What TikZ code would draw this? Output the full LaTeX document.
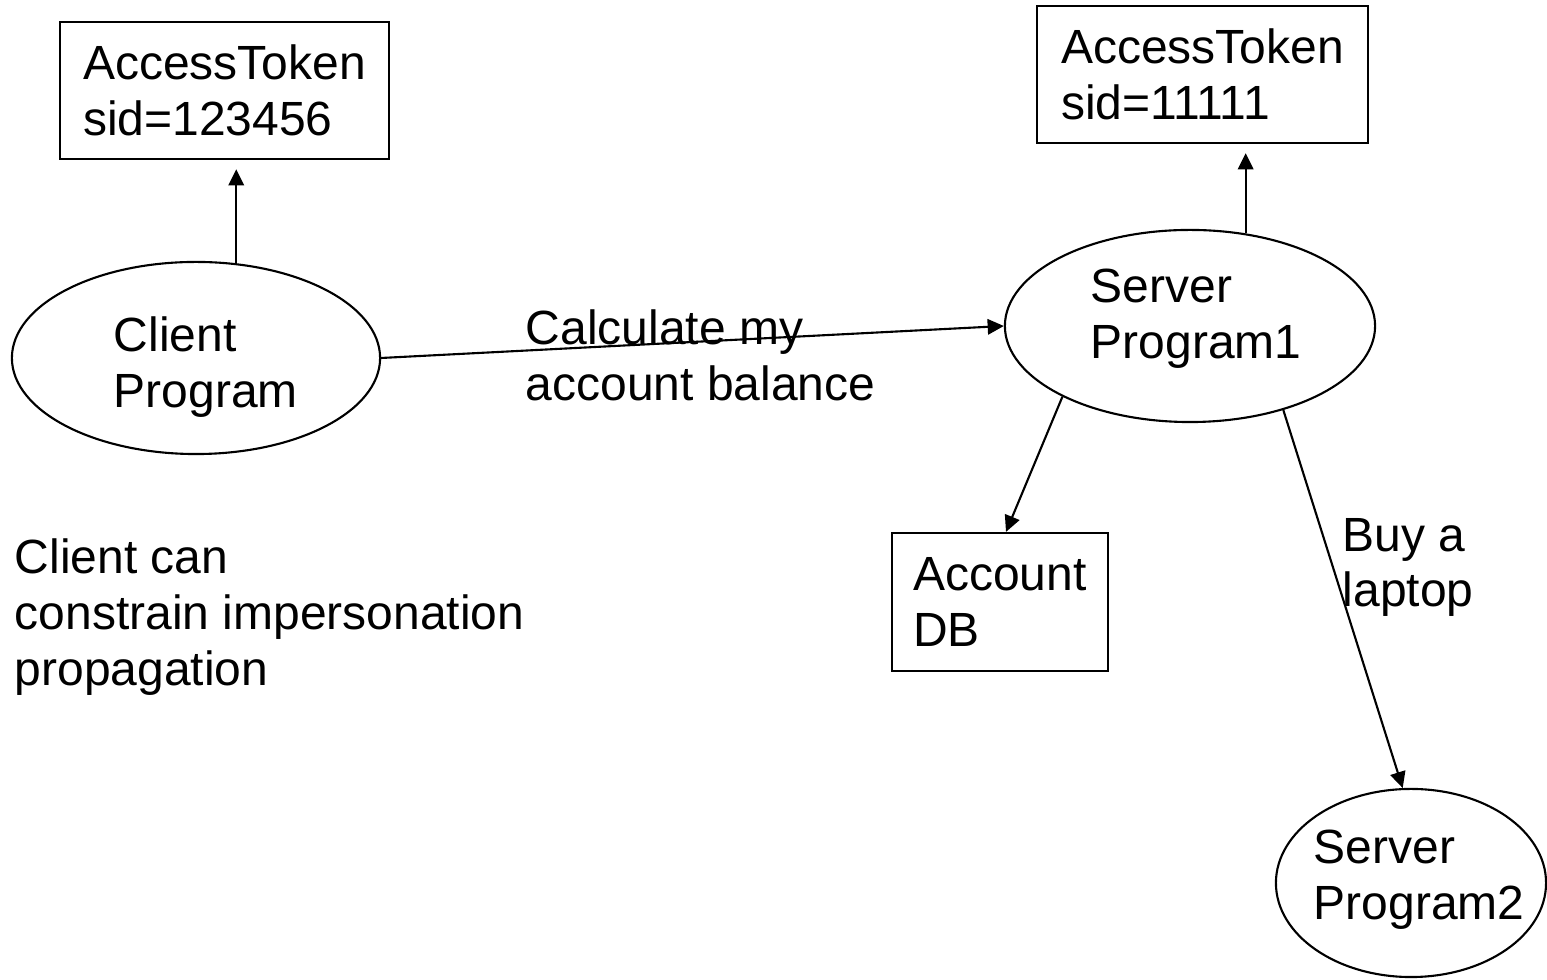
\documentclass[tikz,border=0pt]{standalone}
\usepackage{fontspec}
\setmainfont{Liberation Sans}
\usetikzlibrary{arrows.meta,shapes.geometric,calc}
\begin{document}
\begin{tikzpicture}[x=0.01cm,y=-0.01cm,
  every node/.style={font=\fontsize{13.65pt}{15.9pt}\selectfont, inner sep=0pt},
  tokbox/.style={draw, rectangle, line width=0.6pt, align=left},
  proc/.style={draw, ellipse, line width=0.6pt},
  txt/.style={align=left, anchor=west},
  arr/.style={line width=0.6pt, -{Triangle[length=4.6pt,width=4.4pt]}}]
\useasboundingbox (0,0) rectangle (1547,980);
% boxes
\node[tokbox, minimum width=3.29cm, minimum height=1.37cm] (tok1) at (224.5,90.5) {AccessToken\\sid=123456};
\node[tokbox, minimum width=3.31cm, minimum height=1.37cm] (tok2) at (1202.5,74.5) {AccessToken\\sid=11111};
\node[tokbox, minimum width=2.16cm, minimum height=1.38cm] (db) at (1000,602) {Account\\DB};
% ellipses
\node[proc, minimum width=3.68cm, minimum height=1.92cm] (client) at (196,358) {};
\node[proc, minimum width=3.70cm, minimum height=1.92cm] (server1) at (1190,326) {};
\node[proc, minimum width=2.70cm, minimum height=1.88cm] (server2) at (1411,883) {};
\node[txt] (clientt) at (113,367.5) {Client\\Program};
\node[txt] (server1t) at (1090,319) {Server\\Program1};
\node[txt] (server2t) at (1313,879.5) {Server\\Program2};
% free text
\node[txt] (calc) at (525,355) {Calculate my\\account balance};
\node[txt] (buy) at (1342,567.5) {Buy a\\laptop};
\node[txt] (note) at (14,617) {Client can\\constrain impersonation\\propagation};
% connectors
\draw[arr, shorten >=2.6pt] (client.67) -- (client.67 |- tok1.south);
\draw[arr, shorten >=2.6pt] (server1.59) -- (server1.59 |- tok2.south);
\draw[arr] (client.east) -- (server1.west);
\draw[arr] (server1.209) -- ($(db.north)+(6,0)$);
\draw[arr] (server1.318) -- (server2.95);
\end{tikzpicture}
\end{document}
